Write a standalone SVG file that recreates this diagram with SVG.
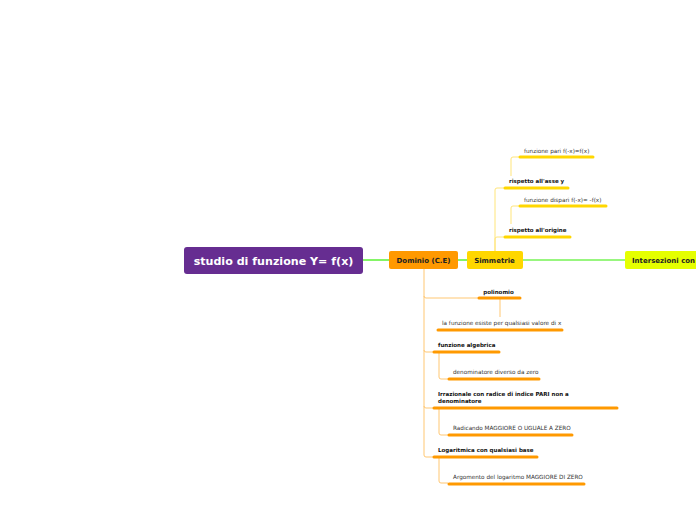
<svg xmlns="http://www.w3.org/2000/svg" width="696" height="520" viewBox="0 0 696 520">
<style>
text{font-family:"DejaVu Sans",Verdana,sans-serif;}
.t{font-size:5.7px;fill:#333;}
.b{font-size:5.5px;font-weight:bold;fill:#111;}
.n{font-size:7px;font-weight:bold;fill:#222;}
.uo{stroke:#ff9900;stroke-width:3;stroke-linecap:round;fill:none;}
.uy{stroke:#ffd700;stroke-width:3;stroke-linecap:round;fill:none;}
.lo{stroke:#ffc773;stroke-width:1;fill:none;}
.ly{stroke:#ffe57a;stroke-width:1;fill:none;}
.g{stroke:#33ee00;stroke-width:1.2;fill:none;}
</style>
<rect width="696" height="520" fill="#fff"/>
<g id="connectors">
<line class="g" x1="363" y1="260" x2="389" y2="260"/>
<line class="g" x1="458" y1="260" x2="467" y2="260"/>
<line class="g" x1="523" y1="260" x2="625" y2="260"/>
<path class="ly" d="M495 251 V190 Q495 188 497 188 H504"/>
<path class="ly" d="M495 251 V239 Q495 237 497 237 H504"/>
<path class="ly" d="M511 176 V159 Q511 157 513 157 H519"/>
<path class="ly" d="M511 224 V208 Q511 206 513 206 H519"/>
<path class="lo" d="M424 269 V296 Q424 298 426 298 H478"/>
<path class="lo" d="M424 296 V350 Q424 352 426 352 H433"/>
<path class="lo" d="M424 350 V406 Q424 408 426 408 H433"/>
<path class="lo" d="M424 406 V455 Q424 457 426 457 H433"/>
<line class="lo" x1="500" y1="298" x2="500" y2="317"/>
<path class="lo" d="M439 352 V377 Q439 379 441 379 H448"/>
<path class="lo" d="M439 408 V433 Q439 435 441 435 H448"/>
<path class="lo" d="M439 457 V481 Q439 483 441 483 H448"/>
</g>
<g id="main">
<rect x="184" y="247" width="179" height="27" rx="3" fill="#662d91"/>
<text x="273.5" y="264.6" text-anchor="middle" style="font-size:11.1px;font-weight:bold;fill:#fff">studio di funzione Y= f(x)</text>
</g>
<g id="dominio">
<rect x="389" y="251" width="69" height="18" rx="2" fill="#ff9900"/>
<text x="423.5" y="262.6" text-anchor="middle" class="n">Dominio (C.E)</text>
</g>
<g id="simmetrie">
<rect x="467" y="251" width="56" height="18" rx="2" fill="#ffd700"/>
<text x="494.5" y="262.6" text-anchor="middle" class="n">Simmetrie</text>
</g>
<g id="intersezioni">
<rect x="625" y="251" width="80" height="18" rx="2" fill="#e5ff00"/>
<text x="632" y="262.6" class="n">Intersezioni con</text>
</g>
<g id="asse-y">
<text x="509" y="183" class="b">rispetto all'asse y</text>
<line class="uy" x1="505" y1="188" x2="568" y2="188"/>
</g>
<g id="pari">
<text x="524" y="153" class="t">funzione pari f(-x)=f(x)</text>
<line class="uy" x1="520" y1="157" x2="593" y2="157"/>
</g>
<g id="origine">
<text x="509" y="232" class="b">rispetto all'origine</text>
<line class="uy" x1="505" y1="237" x2="570" y2="237"/>
</g>
<g id="dispari">
<text x="524" y="202" class="t">funzione dispari f(-x)= -f(x)</text>
<line class="uy" x1="520" y1="206" x2="606" y2="206"/>
</g>
<g id="polinomio">
<text x="498.5" y="294" text-anchor="middle" class="b">polinomio</text>
<line class="uo" x1="479" y1="298" x2="520" y2="298"/>
</g>
<g id="esiste">
<text x="442" y="325" class="t">la funzione esiste per qualsiasi valore di x</text>
<line class="uo" x1="438" y1="330" x2="562" y2="330"/>
</g>
<g id="algebrica">
<text x="438" y="347" class="b">funzione algebrica</text>
<line class="uo" x1="434" y1="352" x2="499" y2="352"/>
</g>
<g id="denominatore">
<text x="453" y="374" class="t">denominatore diverso da zero</text>
<line class="uo" x1="449" y1="379" x2="539" y2="379"/>
</g>
<g id="irrazionale">
<text x="438" y="396" class="b">Irrazionale con radice di indice PARI non a</text>
<text x="438" y="403" class="b">denominatore</text>
<line class="uo" x1="434" y1="408" x2="617" y2="408"/>
</g>
<g id="radicando">
<text x="453" y="430" class="t">Radicando MAGGIORE O UGUALE A ZERO</text>
<line class="uo" x1="449" y1="435" x2="572" y2="435"/>
</g>
<g id="logaritmica">
<text x="438" y="452" class="b">Logaritmica con qualsiasi base</text>
<line class="uo" x1="434" y1="457" x2="537" y2="457"/>
</g>
<g id="argomento">
<text x="453" y="479" class="t">Argomento del logaritmo MAGGIORE DI ZERO</text>
<line class="uo" x1="449" y1="484" x2="584" y2="484"/>
</g>
</svg>
